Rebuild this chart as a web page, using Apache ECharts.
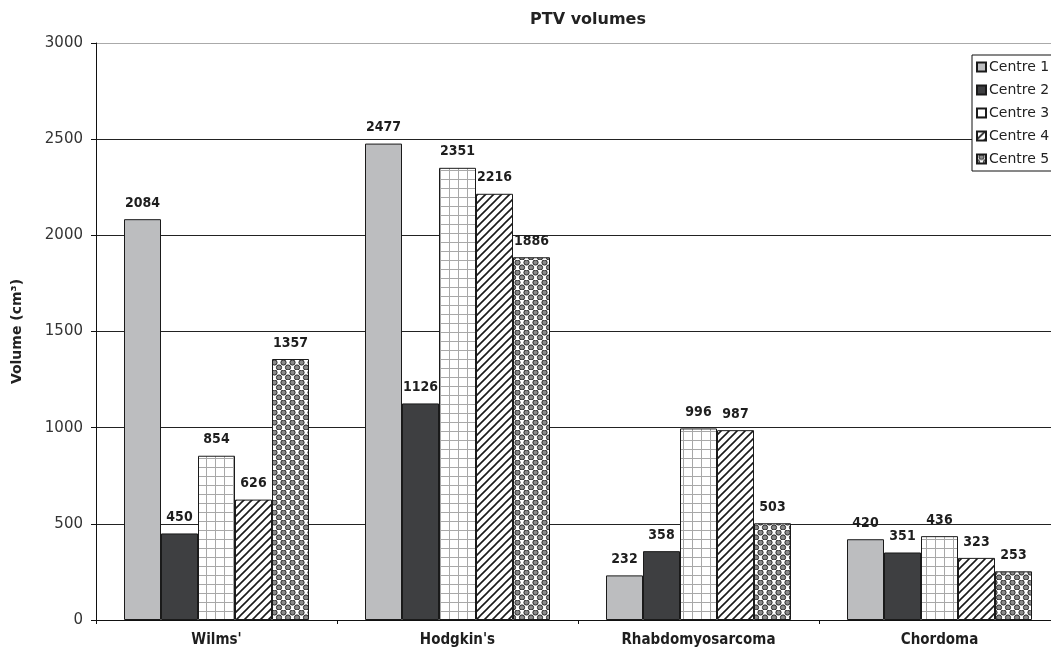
<!DOCTYPE html>
<html>
<head>
<meta charset="utf-8">
<script src="https://cdn.jsdelivr.net/npm/echarts@6/dist/echarts.min.js"></script>
<style>
  html, body { margin: 0; padding: 0; background: #fff; }
  #chart { width: 1051px; height: 655px; }
</style>
</head>
<body>
<div id="chart"></div>
<script>
const categories = ["Wilms'", "Hodgkin's", "Rhabdomyosarcoma", "Chordoma"];
const centreNames = ["Centre 1", "Centre 2", "Centre 3", "Centre 4", "Centre 5"];
const centre1 = [2084, 2477, 232, 420];
const centre2 = [450, 1126, 358, 351];
const centre3 = [854, 2351, 996, 436];
const centre4 = [626, 2216, 987, 323];
const centre5 = [1357, 1886, 503, 253];
const yTicks = [0, 500, 1000, 1500, 2000, 2500, 3000];

// fill patterns drawn on small canvases
function makeTile(w, h, draw) {
  const c = document.createElement("canvas");
  c.width = w;
  c.height = h;
  const ctx = c.getContext("2d");
  ctx.fillStyle = "#fff";
  ctx.fillRect(0, 0, w, h);
  draw(ctx);
  return c;
}

const gridTile = makeTile(9, 9, (ctx) => {
  ctx.strokeStyle = "#a8a8a8";
  ctx.lineWidth = 1;
  ctx.beginPath();
  ctx.moveTo(8.5, 0); ctx.lineTo(8.5, 9);
  ctx.moveTo(0, 8.5); ctx.lineTo(9, 8.5);
  ctx.stroke();
});

const stripeTile = makeTile(8, 8, (ctx) => {
  ctx.strokeStyle = "#1a1a1a";
  ctx.lineWidth = 1.6;
  ctx.beginPath();
  ctx.moveTo(-1, 9); ctx.lineTo(9, -1);
  ctx.moveTo(-5, 5); ctx.lineTo(5, -5);
  ctx.moveTo(3, 13); ctx.lineTo(13, 3);
  ctx.stroke();
});

const dotTile = makeTile(9, 10, (ctx) => {
  ctx.fillStyle = "#8a8a8a";
  ctx.strokeStyle = "#262626";
  ctx.lineWidth = 1;
  [[4.5, 2.5], [0, 7.5], [9, 7.5]].forEach(([x, y]) => {
    ctx.beginPath();
    ctx.arc(x, y, 2.6, 0, Math.PI * 2);
    ctx.fill();
    ctx.stroke();
  });
});

const fills = [
  "#bcbdbf",
  "#3e3f41",
  { image: gridTile, repeat: "repeat" },
  { image: stripeTile, repeat: "repeat" },
  { image: dotTile, repeat: "repeat" },
];
const values = [centre1, centre2, centre3, centre4, centre5];

const labelFont = {
  fontFamily: "DejaVu Sans Condensed",
  fontWeight: "bold",
  fontSize: 14,
  color: "#1e1e1e",
};

const chart = echarts.init(document.getElementById("chart"), null, { renderer: "canvas" });
chart.setOption({
  animation: false,
  backgroundColor: "#fff",
  title: {
    text: "PTV volumes",
    left: 583,
    top: 7,
    textAlign: "center",
    textStyle: { fontFamily: "DejaVu Sans", fontWeight: "bold", fontSize: 16, color: "#222" },
  },
  legend: {
    orient: "vertical",
    left: 972,
    top: 55,
    itemWidth: 9,
    itemHeight: 9,
    itemGap: 9,
    icon: "rect",
    padding: [5, 4, 5, 4],
    backgroundColor: "#fff",
    borderColor: "#111",
    borderWidth: 1,
    textStyle: { fontFamily: "DejaVu Sans", fontSize: 14, color: "#222", padding: [0, 0, 0, -2] },
    data: centreNames,
  },
  grid: { left: 96, top: 43, width: 964, height: 577, containLabel: false, outerBoundsMode: "none" },
  xAxis: {
    type: "category",
    data: categories,
    axisLine: { lineStyle: { color: "#111", width: 1 } },
    axisTick: { show: true, length: 4, lineStyle: { color: "#111" } },
    axisLabel: Object.assign({ margin: 13 }, labelFont, { fontSize: 15 }),
  },
  yAxis: {
    type: "value",
    min: 0,
    max: 3000,
    interval: 500,
    name: "Volume (cm³)",
    nameLocation: "middle",
    nameGap: 72,
    nameTextStyle: { fontFamily: "DejaVu Sans", fontWeight: "bold", fontSize: 14, color: "#222" },
    axisLine: { show: true, lineStyle: { color: "#111", width: 1 } },
    axisTick: { show: true, length: 5, lineStyle: { color: "#111" } },
    axisLabel: {
      margin: 13,
      fontFamily: "DejaVu Sans",
      fontSize: 15,
      color: "#333",
      formatter: (v) => (yTicks.includes(v) ? String(v) : ""),
    },
    splitLine: {
      show: true,
      lineStyle: { color: ["#222", "#222", "#222", "#222", "#222", "#222", "#aaa"], width: 1 },
    },
  },
  series: centreNames.map((name, i) => ({
    name,
    type: "bar",
    data: values[i],
    barWidth: 37,
    barGap: "0%",
    itemStyle: { color: fills[i], borderColor: "#1a1a1a", borderWidth: 1 },
    label: Object.assign({ show: true, position: "top", distance: 9 }, labelFont),
  })),
});
</script>
</body>
</html>
